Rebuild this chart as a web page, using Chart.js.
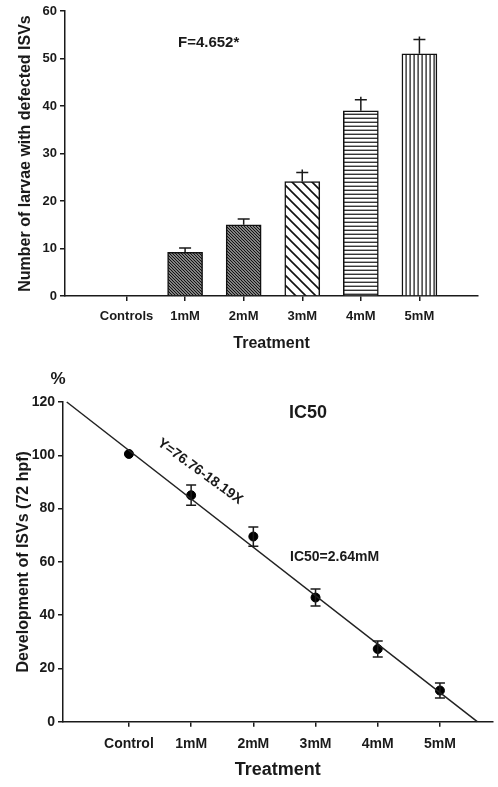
<!DOCTYPE html>
<html>
<head>
<meta charset="UTF-8">
<title>ISV charts</title>
<script src="https://cdn.jsdelivr.net/npm/chart.js@4"></script>
<style>
  body, html { margin: 0; padding: 0; background: #fff; }
  .wrap { position: relative; width: 498px; height: 787px; }
  #barChart { position: absolute; left: 0; top: 0; }
  #lineChart { position: absolute; left: 0; top: 355px; }
</style>
</head>
<body>
<div class="wrap">
  <canvas id="barChart" width="498" height="360"></canvas>
  <canvas id="lineChart" width="498" height="432"></canvas>
</div>
<script>
// top chart data
const barCategories = ['Controls', '1mM', '2mM', '3mM', '4mM', '5mM'];
const barValues = [0, 9.2, 15, 24.1, 39, 51];
const barErrTop = [0, 10.1, 16.2, 26, 41.3, 54];

// bottom chart data
const icCategories = ['Control', '1mM', '2mM', '3mM', '4mM', '5mM'];
const icValues = [100.5, 85, 69.5, 46.6, 27.3, 11.7];
const icErr = [0.5, 3.8, 3.6, 3.2, 3.0, 2.8];
// regression line Y=76.76-18.19X drawn across the axis
const fitX = [0, 6.6];
const fitY = [120, 0];

const ink = '#1a1a1a';
const fam = 'Liberation Sans, Arial, sans-serif';
const tickFont = { family: fam, weight: 'bold', size: 13 };

// hatch fills
function hatch(kind, size, lw) {
  const c = document.createElement('canvas');
  c.width = size; c.height = size;
  const g = c.getContext('2d');
  g.fillStyle = '#fff';
  g.fillRect(0, 0, size, size);
  g.strokeStyle = '#111';
  g.lineWidth = lw;
  g.beginPath();
  if (kind === 'back') {
    g.moveTo(-1, -1); g.lineTo(size + 1, size + 1);
    g.moveTo(-1, size - 1); g.lineTo(1, size + 1);
    g.moveTo(size - 1, -1); g.lineTo(size + 1, 1);
  } else if (kind === 'h') {
    g.moveTo(0, size / 2); g.lineTo(size, size / 2);
  } else if (kind === 'v') {
    g.moveTo(size / 2, 0); g.lineTo(size / 2, size);
  }
  g.stroke();
  return g.createPattern(c, 'repeat');
}

const fills = [
  '#fff',
  hatch('back', 3, 1.5),
  hatch('back', 3, 1.5),
  hatch('back', 10, 1.6),
  hatch('h', 4.5, 1.2),
  hatch('v', 4.2, 1.2)
];

function fixedTicks(cats) {
  return function (scale) {
    scale.ticks = cats.map((c, i) => ({ value: i + 1 }));
  };
}

// error bars + text
const barExtras = {
  id: 'barExtras',
  afterDatasetsDraw(chart) {
    const { ctx, scales: { x, y } } = chart;
    ctx.save();
    ctx.strokeStyle = ink;
    ctx.lineWidth = 1.5;
    barValues.forEach((v, i) => {
      if (barErrTop[i] <= v) return;
      const px = x.getPixelForValue(i + 1);
      const y0 = y.getPixelForValue(v);
      const y1 = y.getPixelForValue(barErrTop[i]);
      ctx.beginPath();
      ctx.moveTo(px, y0); ctx.lineTo(px, y1 - (i > 2 ? 3 : 0));
      ctx.moveTo(px - 6, y1); ctx.lineTo(px + 6, y1);
      ctx.stroke();
    });
    ctx.fillStyle = ink;
    ctx.font = 'bold 15px "Liberation Sans", Arial, sans-serif';
    ctx.textBaseline = 'middle';
    ctx.fillText('F=4.652*', 178, 43);
    ctx.restore();
  }
};

new Chart(document.getElementById('barChart'), {
  type: 'bar',
  data: {
    datasets: [{
      data: barValues.map((v, i) => ({ x: i + 1, y: v })),
      backgroundColor: fills,
      borderColor: '#111',
      borderWidth: 1.5,
      barThickness: 35
    }]
  },
  options: {
    responsive: false,
    animation: false,
    layout: { padding: { top: 11, right: 20, left: 0, bottom: 0 } },
    plugins: { legend: { display: false }, tooltip: { enabled: false } },
    scales: {
      x: {
        type: 'linear',
        offset: false,
        min: -0.05,
        max: 7,
        afterBuildTicks: fixedTicks(barCategories),
        afterFit: s => { s.height = 64; },
        grid: { offset: false, drawOnChartArea: false, tickLength: 5, color: ink, lineWidth: 1.5 },
        border: { color: ink, width: 1.5 },
        ticks: {
          autoSkip: false, maxRotation: 0, padding: 8, color: ink, font: tickFont,
          callback: v => barCategories[v - 1] ?? ''
        },
        title: {
          display: true, text: 'Treatment', color: ink,
          font: { family: fam, weight: 'bold', size: 16 },
          padding: { top: 0, bottom: 7 }
        }
      },
      y: {
        min: 0,
        max: 60,
        afterFit: s => { s.width = 65; },
        grid: { drawOnChartArea: false, tickLength: 5, color: ink, lineWidth: 1.5 },
        border: { color: ink, width: 1.5 },
        ticks: { stepSize: 10, padding: 3, color: ink, font: tickFont },
        title: {
          display: true, text: 'Number of larvae with defected ISVs', color: ink,
          font: { family: fam, weight: 'bold', size: 16 },
          padding: { top: 16, bottom: 0 }
        }
      }
    }
  },
  plugins: [barExtras]
});

const lineExtras = {
  id: 'lineExtras',
  afterDatasetsDraw(chart) {
    const { ctx, scales: { x, y } } = chart;
    ctx.save();
    ctx.strokeStyle = ink;
    ctx.lineWidth = 1.5;
    icValues.forEach((v, i) => {
      if (icErr[i] < 1) return;
      const px = x.getPixelForValue(i + 1);
      const yt = y.getPixelForValue(v + icErr[i]);
      const yb = y.getPixelForValue(v - icErr[i]);
      ctx.beginPath();
      ctx.moveTo(px, yt); ctx.lineTo(px, yb);
      ctx.moveTo(px - 5, yt); ctx.lineTo(px + 5, yt);
      ctx.moveTo(px - 5, yb); ctx.lineTo(px + 5, yb);
      ctx.stroke();
    });
    ctx.fillStyle = ink;
    ctx.textBaseline = 'middle';
    ctx.textAlign = 'center';
    ctx.font = 'bold 17px "Liberation Sans", Arial, sans-serif';
    ctx.fillText('%', 58, 24);
    ctx.font = 'bold 18px "Liberation Sans", Arial, sans-serif';
    ctx.fillText('IC50', 308, 58);
    ctx.textAlign = 'left';
    ctx.font = 'bold 14px "Liberation Sans", Arial, sans-serif';
    ctx.fillText('IC50=2.64mM', 290, 202);
    ctx.translate(200, 116.5);
    ctx.rotate(36 * Math.PI / 180);
    ctx.textAlign = 'center';
    ctx.font = 'bold 14px "Liberation Sans", Arial, sans-serif';
    ctx.fillText('Y=76.76-18.19X', 0, 0);
    ctx.restore();
  }
};

new Chart(document.getElementById('lineChart'), {
  type: 'scatter',
  data: {
    datasets: [
      {
        data: fitX.map((v, i) => ({ x: v, y: fitY[i] })),
        showLine: true,
        borderColor: '#222',
        borderWidth: 1.5,
        pointRadius: 0,
        clip: false
      },
      {
        data: icValues.map((v, i) => ({ x: i + 1, y: v })),
        backgroundColor: '#000',
        borderColor: '#000',
        pointRadius: 4.5
      }
    ]
  },
  options: {
    responsive: false,
    animation: false,
    layout: { padding: { top: 47, right: 0, left: 0, bottom: 0 } },
    plugins: { legend: { display: false }, tooltip: { enabled: false } },
    scales: {
      x: {
        type: 'linear',
        min: -0.06,
        max: 6.845,
        afterBuildTicks: fixedTicks(icCategories),
        afterFit: s => { s.height = 65.3; },
        grid: { drawOnChartArea: false, tickLength: 5, color: ink, lineWidth: 1.5 },
        border: { color: ink, width: 1.5 },
        ticks: {
          autoSkip: false, maxRotation: 0, padding: 9, color: ink,
          font: { family: fam, weight: 'bold', size: 14 },
          callback: v => icCategories[v - 1] ?? ''
        },
        title: {
          display: true, text: 'Treatment', color: ink,
          font: { family: fam, weight: 'bold', size: 18 },
          padding: { top: 0, bottom: 6 }
        }
      },
      y: {
        min: 0,
        max: 120,
        afterFit: s => { s.width = 63; },
        grid: { drawOnChartArea: false, tickLength: 5, color: ink, lineWidth: 1.5 },
        border: { color: ink, width: 1.5 },
        ticks: {
          stepSize: 20, padding: 3, color: ink,
          font: { family: fam, weight: 'bold', size: 14 }
        },
        title: {
          display: true, text: 'Development of ISVs (72 hpf)', color: ink,
          font: { family: fam, weight: 'bold', size: 16 },
          padding: { top: 14, bottom: 0 }
        }
      }
    }
  },
  plugins: [lineExtras]
});
</script>
</body>
</html>
